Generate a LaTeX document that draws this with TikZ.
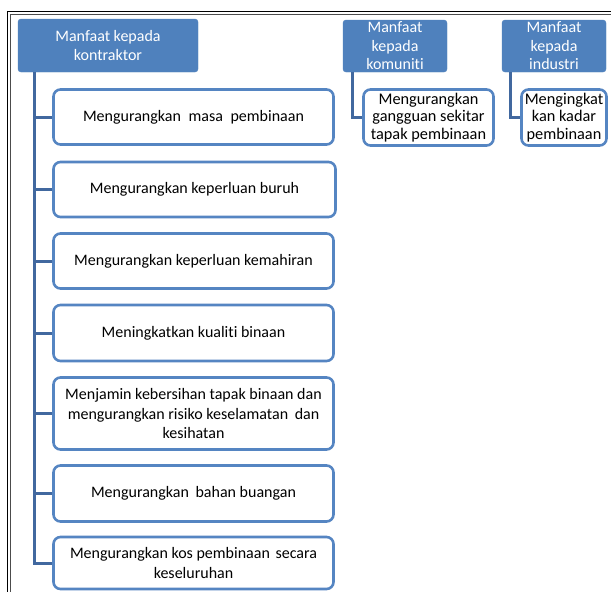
\documentclass[tikz,border=0pt]{standalone}
\usepackage{fontspec}
\setmainfont[Ligatures=NoCommon]{Carlito}
\definecolor{hdr}{HTML}{4F81BD}
\definecolor{bord}{HTML}{5585C2}
\definecolor{conn}{HTML}{41689F}
\begin{document}
\begin{tikzpicture}[x=1pt,y=-1pt,
  hdrbox/.style={fill=hdr,draw=hdr,rounded corners=3pt,align=center,text=white,
    font=\fontsize{16}{18.5}\selectfont,inner sep=0pt},
  itembox/.style={draw=bord,line width=2.6pt,rounded corners=7pt,fill=white,align=center,
    text=black,font=\fontsize{16}{19.5}\selectfont,inner sep=0pt,
    minimum width=280pt},
  smallbox/.style={draw=bord,line width=2.6pt,rounded corners=7pt,fill=white,align=center,
    text=black,font=\fontsize{16.3}{17.5}\selectfont,inner sep=0pt},
  link/.style={draw=conn,line width=3pt}]
\useasboundingbox (0,0) rectangle (611,592);
\fill[white] (0,0) rectangle (611,592);
% frame
\draw[black,line width=1.2pt] (7.6,600) -- (7.6,11.6) -- (620,11.6);
\draw[black!70,line width=1pt] (10.4,600) -- (10.4,14.2) -- (620,14.2);
% headers
\node[hdrbox,minimum width=180pt,minimum height=53pt] (h1) at (108,45.5) {Manfaat kepada\\kontraktor};
\node[hdrbox,minimum width=104pt,minimum height=52pt] (h2) at (395,46) {Manfaat\\kepada\\komuniti};
\node[hdrbox,minimum width=104pt,minimum height=52pt] (h3) at (554,46) {Manfaat\\kepada\\industri};
% connector anchors
\coordinate (t1) at (34,72);
\coordinate (t2) at (352,72);
\coordinate (t3) at (510,72);
% items
\node[itembox,minimum height=55pt] (b1) at (193.5,117) {Mengurangkan\hspace{4pt} masa\hspace{4pt} pembinaan};
\node[itembox,minimum height=55pt,minimum width=282pt] (b2) at (194.5,189.5) {Mengurangkan keperluan buruh};
\node[itembox,minimum height=55pt] (b3) at (193.5,261) {Mengurangkan keperluan kemahiran};
\node[itembox,minimum height=56pt] (b4) at (193.5,333) {Meningkatkan kualiti binaan};
\node[itembox,minimum height=72pt] (b5) at (193.5,413.5) {Menjamin kebersihan tapak binaan dan\\mengurangkan risiko keselamatan\hspace{3pt} dan\\kesihatan};
\node[itembox,minimum height=56pt] (b6) at (193.5,493.5) {Mengurangkan\hspace{3pt} bahan buangan};
\node[itembox,minimum height=52pt] (b7) at (193.5,563) {Mengurangkan kos pembinaan\hspace{2pt} secara\\keseluruhan};
\node[smallbox,minimum width=130pt,minimum height=56pt] (c2) at (428.5,117.5) {Mengurangkan\\gangguan sekitar\\tapak pembinaan};
\node[smallbox,minimum width=85pt,minimum height=56pt] (c3) at (564,117.5) {Mengingkat\\kan kadar\\pembinaan};
% connectors
\foreach \b in {b1,b2,b3,b4,b5,b6,b7} { \draw[link] (t1) |- (\b.west); }
\draw[link] (t2) |- (c2.west);
\draw[link] (t3) |- (c3.west);
\end{tikzpicture}
\end{document}
